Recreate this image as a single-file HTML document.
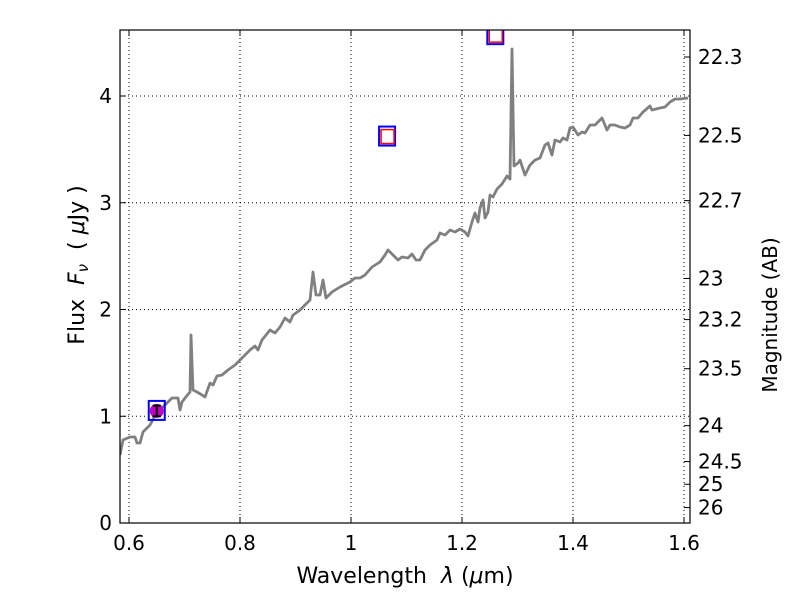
<!DOCTYPE html>
<html><head><meta charset="utf-8"><style>body{margin:0;background:#fff}svg text{font-family:"DejaVu Sans","Liberation Sans",sans-serif;white-space:pre}</style></head>
<body>
<svg id="c" width="800" height="600" xmlns="http://www.w3.org/2000/svg"></svg>
<script>
const specPx = [[120,455],[123,440],[130,437],[135,437],[137,443],[140,443],[143,432],[150,425],[157,412],[165,405],[170,400],[172,398],[178,398],[180,410],[182,402],[185,398],[190,392],[191,335],[193,390],[197,392],[202,395],[205,397],[210,383],[213,385],[217,376],[222,375],[228,370],[235,365],[240,360],[245,355],[250,350],[255,346],[258,350],[262,340],[270,330],[275,333],[280,327],[285,318],[290,322],[293,315],[300,310],[305,305],[310,300],[313,272],[316,295],[320,295],[323,280],[326,298],[332,292],[340,287],[350,282],[355,278],[360,278],[365,275],[372,267],[380,262],[385,255],[388,250],[393,255],[398,260],[402,257],[408,258],[412,254],[416,260],[420,260],[425,250],[430,245],[437,240],[440,233],[445,235],[450,230],[455,232],[460,229],[465,232],[468,236],[472,222],[475,213],[478,222],[480,208],[483,200],[485,218],[488,212],[490,195],[493,197],[497,189],[502,184],[507,176],[510,179],[512,49],[514,166],[518,163],[520,160],[525,175],[530,165],[535,160],[540,158],[545,145],[548,143],[552,155],[555,140],[560,142],[563,138],[567,140],[570,128],[573,127],[578,135],[582,132],[585,133],[590,125],[595,125],[598,122],[602,118],[607,130],[610,125],[615,125],[620,127],[625,128],[630,125],[633,118],[638,118],[643,112],[650,106],[652,110],[660,108],[665,107],[670,102],[675,99],[680,99],[688,98]];
const specWl = specPx.map(p => +(0.6 + (p[0]-129)/555).toFixed(4));
const specFlux = specPx.map(p => +((523-p[1])/106.75).toFixed(3));
const photWl = [0.65, 1.065, 1.26];
const photFlux = [1.05, 3.62, 4.57];
const modelWl = [1.065, 1.26];
const modelFlux = [3.62, 4.57];
const dataWl = [0.65];
const dataFlux = [1.05];
const dataErr = [0.05];
const xTicks = [0.6,0.8,1.0,1.2,1.4,1.6];
const xTickLabels = ["0.6","0.8","1","1.2","1.4","1.6"];
const yTicks = [0,1,2,3,4];
const magTicks = [22.3,22.5,22.7,23,23.2,23.5,24,24.5,25,26];

const L=120,R=690,T=30,B=523;
const X0=0.6, XS=555;
const x = v => 129 + (v-X0)*XS;
const y = v => 523 - v*106.75;
const svg = document.getElementById('c');
const NS='http://www.w3.org/2000/svg';
function mk(tag, attrs, parent){const e=document.createElementNS(NS,tag);for(const k in attrs)e.setAttribute(k,attrs[k]);(parent||svg).appendChild(e);return e;}

const defs = mk('defs',{});
const cp = mk('clipPath',{id:'clip'},defs);
mk('rect',{x:L,y:T,width:R-L,height:B-T},cp);

xTicks.forEach(v=>{const g=mk('line',{x1:x(v),x2:x(v),y1:T,y2:B,stroke:'#000','stroke-dasharray':'1,3','stroke-width':1});

});
yTicks.forEach(v=>{const g=mk('line',{x1:L,x2:R,y1:y(v),y2:y(v),stroke:'#000','stroke-dasharray':'1,3','stroke-width':1});

});

const plot = mk('g',{'clip-path':'url(#clip)'});


const pts = specWl.map((w,i)=>x(w).toFixed(1)+','+y(specFlux[i]).toFixed(1)).join(' ');
const line = mk('polyline',{points:pts,fill:'none',stroke:'#808080','stroke-width':2.8,'stroke-linejoin':'round'},plot);



photWl.forEach((w,i)=>{const r=mk('rect',{x:x(w)-8,y:y(photFlux[i])-10,width:16,height:19,fill:'none',stroke:'#0000ff','stroke-width':2},plot);

});
modelWl.forEach((w,i)=>{const r=mk('rect',{x:x(w)-6,y:y(modelFlux[i])-7,width:13,height:14,fill:'none',stroke:'#ff0000','stroke-width':1.5},plot);

});
dataWl.forEach((w,i)=>{const c=mk('circle',{cx:x(w),cy:y(dataFlux[i]),r:7,fill:'#bf00bf'},plot);


const cx=x(w),y1=y(dataFlux[i]+dataErr[i]),y2=y(dataFlux[i]-dataErr[i]);
const eb=mk('path',{d:`M${cx},${y1}V${y2}M${cx-4},${y1}H${cx+4}M${cx-4},${y2}H${cx+4}`,stroke:'#000','stroke-width':2,fill:'none'},plot);

});

const fr=mk('rect',{x:L,y:T,width:R-L,height:B-T,fill:'none',stroke:'#000','stroke-width':1.2});



xTicks.forEach((v,i)=>{mk('line',{x1:x(v),x2:x(v),y1:B,y2:B-6,stroke:'#000'});mk('line',{x1:x(v),x2:x(v),y1:T,y2:T+6,stroke:'#000'});
const t=mk('text',{x:x(v),y:550,'font-size':20,'text-anchor':'middle'});t.textContent=xTickLabels[i];

});
yTicks.forEach(v=>{mk('line',{x1:L,x2:L+6,y1:y(v),y2:y(v),stroke:'#000'});
const t=mk('text',{x:112,y:y(v)+7,'font-size':20,'text-anchor':'end'});t.textContent=String(v);

});
magTicks.forEach(m=>{const f=Math.pow(10,(23.9-m)/2.5);const py=y(f);
mk('line',{x1:R,x2:R-6,y1:py,y2:py,stroke:'#000'});
const t=mk('text',{x:698,y:py+7,'font-size':20});t.textContent=String(m);

});

const xl=mk('text',{x:405,y:583,'font-size':22,'text-anchor':'middle'});
xl.innerHTML='Wavelength  <tspan font-style="italic">λ</tspan> (<tspan font-style="italic">μ</tspan>m)';


const yl=mk('text',{x:0,y:0,'font-size':22,'text-anchor':'middle',transform:'translate(84,265) rotate(-90)'});
yl.innerHTML='Flux  <tspan font-style="italic">F</tspan><tspan font-style="italic" font-size="15" dy="4">ν</tspan><tspan dy="-4">  ( </tspan><tspan font-style="italic">μ</tspan>Jy )';


const rl=mk('text',{x:0,y:0,'font-size':20,'text-anchor':'middle',transform:'translate(777,315) rotate(-90)'});
rl.textContent='Magnitude (AB)';


</script>
</body></html>
